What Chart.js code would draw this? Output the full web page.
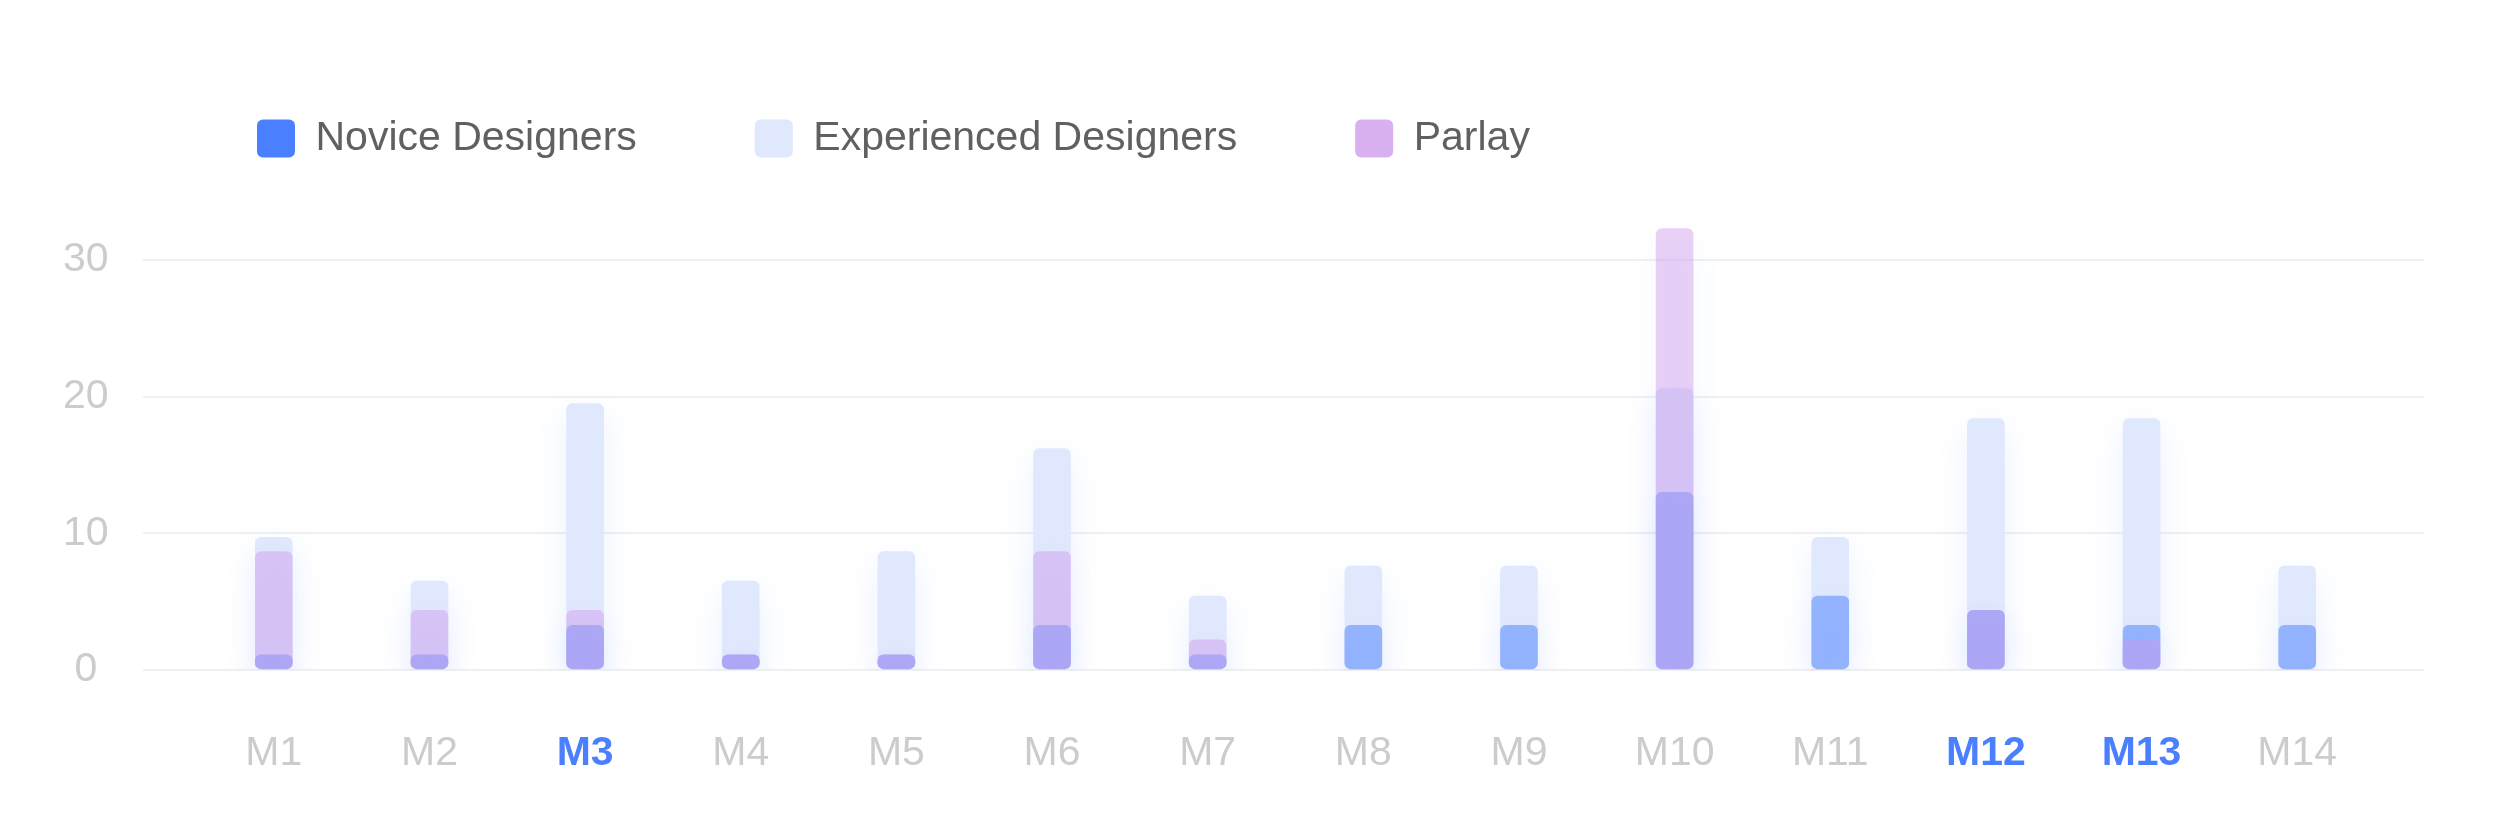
<!DOCTYPE html>
<html>
<head>
<meta charset="utf-8">
<title>Designers by month</title>
<script src="https://cdn.jsdelivr.net/npm/chart.js@4/dist/chart.umd.min.js"></script>
<style>
  html, body { margin: 0; padding: 0; background: #fff; }
  #wrap { width: 2500px; height: 838px; position: relative; }
</style>
</head>
<body>
<div id="wrap"><canvas id="chart"></canvas></div>
<script>
const months = ['M1', 'M2', 'M3', 'M4', 'M5', 'M6', 'M7', 'M8', 'M9', 'M10', 'M11', 'M12', 'M13', 'M14']
const highlighted = ['M3', 'M12', 'M13']
const novice = [1.1, 1.1, 3.26, 1.1, 1.1, 3.26, 1.1, 3.26, 3.26, 13.0, 5.4, 4.35, 3.26, 3.26]
const experienced = [9.7, 6.5, 19.5, 6.5, 8.65, 16.2, 5.4, 7.6, 7.6, 20.6, 9.7, 18.4, 18.4, 7.6]
const parlay = [8.65, 4.35, 4.35, 1.1, 1.1, 8.65, 2.2, 0, 0, 32.3, 0, 4.35, 2.2, 0]
const yStep = 10
const yMax = 36.67

const legendColors = ['#4a80ff', '#e0e8fd', '#d9b1f1']
const font = "'Liberation Sans', 'Helvetica Neue', Helvetica, Arial, sans-serif"

// soft bluish glow under the bars
const barGlow = {
  id: 'barGlow',
  beforeDatasetsDraw(chart) {
    const ctx = chart.ctx
    ctx.save()
    ctx.shadowColor = 'rgba(74, 128, 255, 0.11)'
    ctx.shadowBlur = 32
    ctx.shadowOffsetY = 12
  },
  afterDatasetsDraw(chart) {
    chart.ctx.restore()
  }
}

// left axis: labels mirrored out to the far left (mirror skips the label clip box),
// tick marks stretch the grid lines past the category area on both sides
const yScale = (position, width, tickLength) => ({
  position,
  min: 0,
  max: yMax,
  afterFit: (scale) => { scale.width = width },
  border: { display: false },
  grid: {
    color: '#f0f0f2',
    lineWidth: 2,
    drawTicks: true,
    tickLength,
    drawOnChartArea: position === 'left',
  },
  ticks: {
    display: position === 'left',
    stepSize: yStep,
    includeBounds: false,
    autoSkip: false,
    mirror: true,
    crossAlign: 'center',
    padding: -133,
    color: '#cccccc',
    font: { family: font, size: 41 },
  },
})

new Chart(document.getElementById('chart'), {
  type: 'bar',
  data: {
    labels: months,
    datasets: [
      { label: 'Novice Designers', data: novice, backgroundColor: 'rgba(74, 128, 255, 0.5)', order: 1 },
      { label: 'Experienced Designers', data: experienced, backgroundColor: '#e0e8fd', order: 2 },
      { label: 'Parlay', data: parlay, backgroundColor: 'rgba(206, 153, 235, 0.45)', order: 0 },
    ]
  },
  options: {
    responsive: true,
    maintainAspectRatio: false,
    animation: false,
    devicePixelRatio: 1,
    layout: { padding: { left: 139, right: 76, top: 0, bottom: 0 } },
    datasets: {
      bar: {
        grouped: false,
        barThickness: 37,
        borderRadius: 6,
        borderSkipped: false,
        borderWidth: 0,
      }
    },
    scales: {
      x: {
        offset: true,
        border: { display: false },
        grid: { display: false, drawTicks: false },
        ticks: {
          padding: 59.5,
          maxRotation: 0,
          autoSkip: false,
          color: (c) => highlighted.includes(months[c.index]) ? '#4a80ff' : '#cccccc',
          font: (c) => ({
            family: font,
            size: 41,
            weight: highlighted.includes(months[c.index]) ? 'bold' : 'normal',
          }),
        },
      },
      y: yScale('left', 57, 53),
      y2: yScale('right', 49, 49),
    },
    plugins: {
      tooltip: { enabled: false },
      legend: {
        position: 'top',
        align: 'start',
        labels: {
          boxWidth: 38,
          boxHeight: 38,
          padding: 118,
          color: '#606060',
          font: { family: font, size: 41 },
          useBorderRadius: true,
          borderRadius: 6,
          sort: (a, b) => a.datasetIndex - b.datasetIndex,
          generateLabels: (chart) => {
            const items = Chart.defaults.plugins.legend.labels.generateLabels(chart)
            items.forEach(item => {
              item.fillStyle = legendColors[item.datasetIndex]
              item.strokeStyle = legendColors[item.datasetIndex]
              item.lineWidth = 0
            })
            return items
          },
        },
      },
    },
  },
  plugins: [barGlow],
})
</script>
</body>
</html>
